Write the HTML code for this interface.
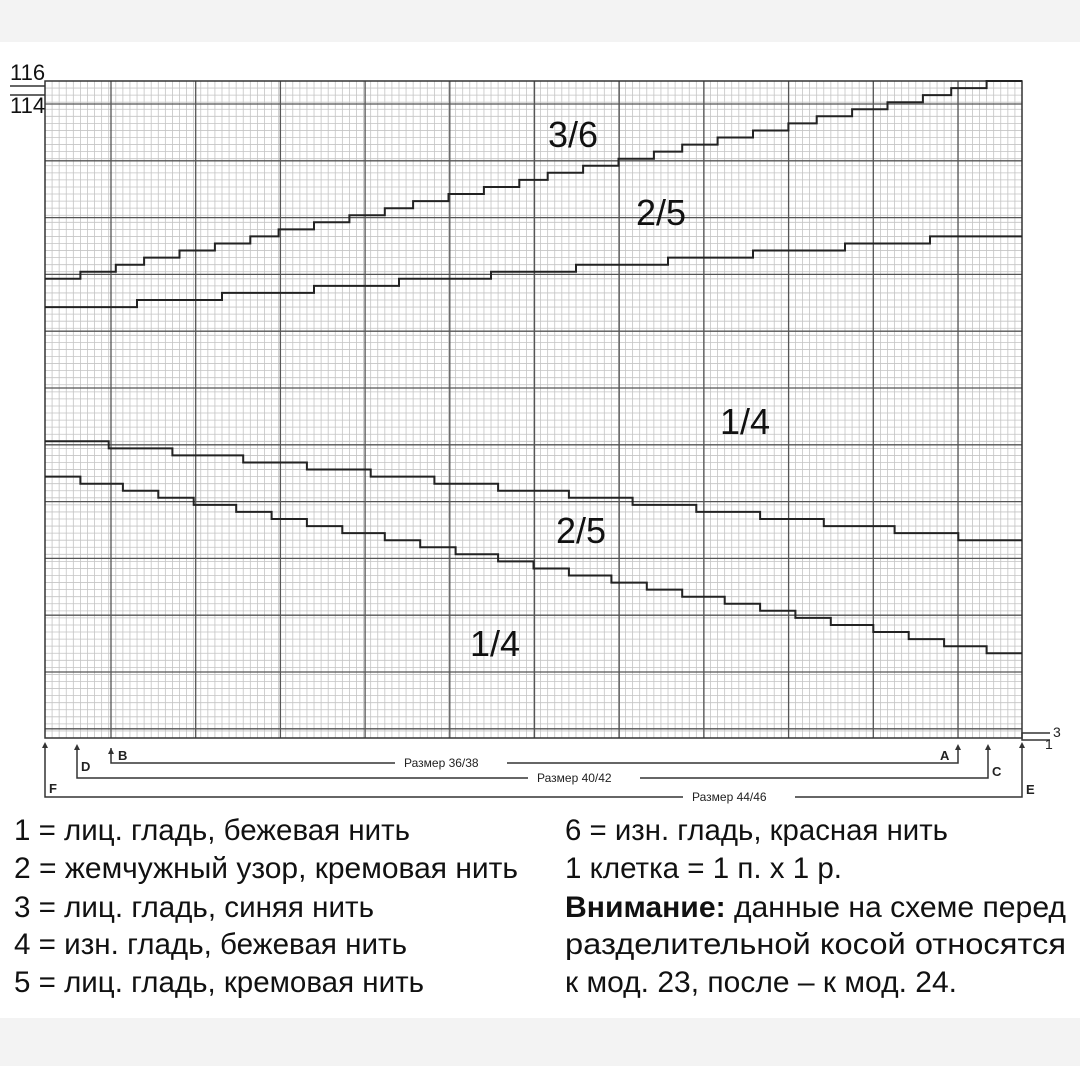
<!DOCTYPE html>
<html><head><meta charset="utf-8"><style>
html,body{margin:0;padding:0;background:#fff;}
svg{display:block}
text{font-family:"Liberation Sans Narrow","Liberation Sans",sans-serif;}
</style></head><body>
<svg id="s" width="1080" height="1066" viewBox="0 0 1080 1066" xmlns="http://www.w3.org/2000/svg">
<rect x="0" y="0" width="1080" height="42" fill="#f3f3f3"/>
<rect x="0" y="1018" width="1080" height="48" fill="#f3f3f3"/>
<g id="grid"></g>
<g id="steps" fill="none" stroke="#222" stroke-width="2"></g>
<g font-size="30" fill="#111">
<text x="548" y="147" font-size="36">3/6</text>
<text x="636" y="225" font-size="36">2/5</text>
<text x="720" y="434" font-size="36">1/4</text>
<text x="556" y="543" font-size="36">2/5</text>
<text x="470" y="656" font-size="36">1/4</text>
</g>
<text x="10" y="80" font-size="22" fill="#111">116</text>
<line x1="10" y1="86" x2="45" y2="86" stroke="#333" stroke-width="1.5"/>
<line x1="10" y1="95" x2="45" y2="95" stroke="#333" stroke-width="1.5"/>
<text x="10" y="113" font-size="22" fill="#111">114</text>
<g stroke="#333" stroke-width="1.5" fill="none">
<polyline points="1022,738 1022,733 1050,733"/>
<polyline points="1022,738 1022,740 1050,740"/>
<polyline points="45,745 45,797 1022,797 1022,745"/>
<polyline points="77,748 77,778 988,778 988,748"/>
<polyline points="111,748 111,763 958,763 958,748"/>
</g>
<g fill="#333">
<path d="M45,742 l-3,6 h6z"/><path d="M77,744 l-3,6 h6z"/><path d="M111,748 l-3,6 h6z"/>
<path d="M958,744 l-3,6 h6z"/><path d="M988,744 l-3,6 h6z"/><path d="M1022,742 l-3,6 h6z"/>
</g>
<g font-size="12" fill="#222">
<rect x="395" y="755" width="112" height="14" fill="#fff"/>
<text x="404" y="767">Размер 36/38</text>
<rect x="528" y="770" width="112" height="14" fill="#fff"/>
<text x="537" y="782">Размер 40/42</text>
<rect x="683" y="789" width="112" height="14" fill="#fff"/>
<text x="692" y="801">Размер 44/46</text>
<g font-weight="bold" font-size="13">
<text x="118" y="760">B</text><text x="81" y="771">D</text><text x="49" y="793">F</text>
<text x="940" y="760">A</text><text x="992" y="776">C</text><text x="1026" y="794">E</text>
</g>
<text x="1053" y="737" font-size="14">3</text><text x="1045" y="749" font-size="14">1</text>
</g>
<g font-size="30" fill="#111">
<text x="14" y="840" textLength="396" lengthAdjust="spacingAndGlyphs">1 = лиц. гладь, бежевая нить</text>
<text x="14" y="878" textLength="504" lengthAdjust="spacingAndGlyphs">2 = жемчужный узор, кремовая нить</text>
<text x="14" y="917" textLength="360" lengthAdjust="spacingAndGlyphs">3 = лиц. гладь, синяя нить</text>
<text x="14" y="954" textLength="393" lengthAdjust="spacingAndGlyphs">4 = изн. гладь, бежевая нить</text>
<text x="14" y="992" textLength="410" lengthAdjust="spacingAndGlyphs">5 = лиц. гладь, кремовая нить</text>
<text x="565" y="840" textLength="383" lengthAdjust="spacingAndGlyphs">6 = изн. гладь, красная нить</text>
<text x="565" y="878" textLength="277" lengthAdjust="spacingAndGlyphs">1 клетка = 1 п. х 1 р.</text>
<text x="565" y="917" textLength="501" lengthAdjust="spacingAndGlyphs"><tspan font-weight="bold">Внимание:</tspan> данные на схеме перед</text>
<text x="565" y="954" textLength="501" lengthAdjust="spacingAndGlyphs">разделительной косой относятся</text>
<text x="565" y="992" textLength="392" lengthAdjust="spacingAndGlyphs">к мод. 23, после – к мод. 24.</text>
</g>
</svg>
<script>
(function(){
var NS="http://www.w3.org/2000/svg";
var g=document.getElementById('grid'),st=document.getElementById('steps');
var x0=45,x1=1022,y0=81,y1=738,c=7.08;
var h='';
var ncol=Math.round((x1-x0)/c);
for(var i=0;i<=ncol;i++){var x=x0+i*(x1-x0)/ncol;
h+='<line x1="'+x+'" y1="'+y0+'" x2="'+x+'" y2="'+y1+'" stroke="#c4c4c4" stroke-width="0.8"/>';}
var rc=7.1;var nrow=Math.round((y1-y0)/rc);
for(var j=0;j<=nrow;j++){var y=y0+j*(y1-y0)/nrow;
h+='<line x1="'+x0+'" y1="'+y+'" x2="'+x1+'" y2="'+y+'" stroke="#c4c4c4" stroke-width="0.8"/>';}
for(var X=111;X<x1;X+=84.7){h+='<line x1="'+X+'" y1="'+y0+'" x2="'+X+'" y2="'+y1+'" stroke="#555" stroke-width="1.3"/>';}
for(var Y=104;Y<y1;Y+=56.8){h+='<line x1="'+x0+'" y1="'+Y+'" x2="'+x1+'" y2="'+Y+'" stroke="#555" stroke-width="1.3"/>';}
h+='<rect x="'+x0+'" y="'+y0+'" width="'+(x1-x0)+'" height="'+(y1-y0)+'" fill="none" stroke="#333" stroke-width="1.5"/>';
g.innerHTML=h;
var cw=(x1-x0)/ncol,rh=(y1-y0)/nrow;
function line(ya,yb,xe){xe=xe||x1;var ra=Math.round((ya-y0)/rh),rb=Math.round((yb-y0)/rh);
var n=Math.abs(rb-ra),dir=rb>ra?1:-1;var cols=Math.round((xe-x0)/cw);
var p='M'+x0+','+(y0+ra*rh);var r=ra;
for(var k=1;k<=n;k++){var xc=x0+Math.round(k*cols/(n+1))*cw;p+=' H'+xc.toFixed(1);r+=dir;p+=' V'+(y0+r*rh).toFixed(1);}
p+=' H'+x1;var e=document.createElementNS(NS,'path');e.setAttribute('d',p);st.appendChild(e);}
line(281,81);line(309,235);line(444,537);line(480,651);
})();
</script>
</body></html>
